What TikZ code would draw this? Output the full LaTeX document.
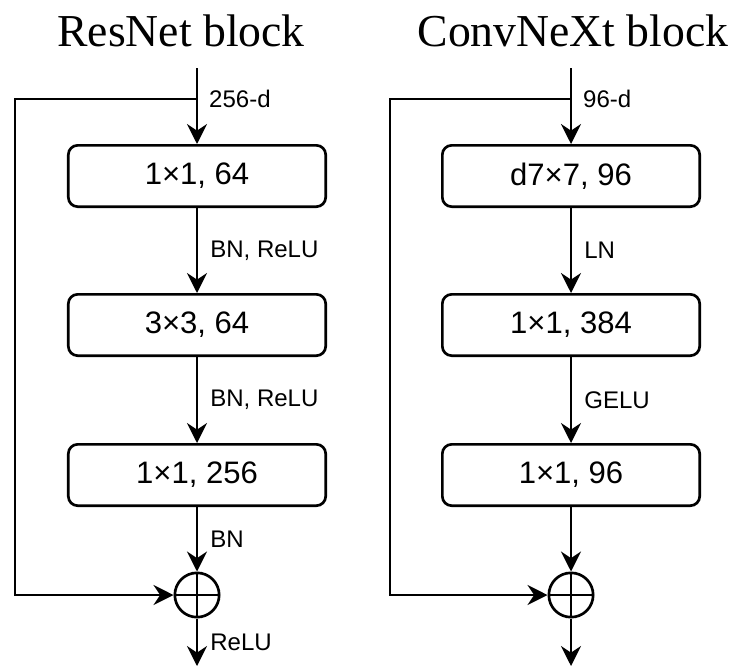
\documentclass[tikz,border=0pt]{standalone}
\usepackage{fontspec}
\setmainfont{Liberation Serif}
\setsansfont{Liberation Sans}
\usetikzlibrary{arrows.meta,positioning}

\begin{document}
\begin{tikzpicture}[x=0.03cm, y=-0.03cm,
    box/.style={draw, line width=0.08cm, rounded corners=0.28cm, minimum width=7.72cm, minimum height=1.84cm, font=\sffamily\fontsize{26.5}{30}\selectfont},
    addop/.style={draw, circle, line width=0.08cm, minimum size=1.33cm, inner sep=0pt,
        path picture={\draw[line width=0.08cm] (path picture bounding box.north) -- (path picture bounding box.south) (path picture bounding box.west) -- (path picture bounding box.east);}},
    arr/.style={line width=0.08cm, -{Stealth[length=0.6cm, width=0.6cm, inset=0.2cm]}},
    lbl/.style={right=0.36cm, inner sep=0pt, font=\sffamily\fontsize{20.5}{24}\selectfont},
    title/.style={anchor=base, font=\fontsize{39}{44}\selectfont}]
    \useasboundingbox (0,0) rectangle (734,666);

    % ResNet block
    \node[title] (t1) at (181,46) {ResNet block};
    \coordinate (in1) at (197,68);
    \coordinate (br1) at (197,99);
    \coordinate (sk1) at (15,99);
    \node[box] (r1) at (197,176) {1×1, 64};
    \node[box] (r2) at (197,325) {3×3, 64};
    \node[box] (r3) at (197,475) {1×1, 256};
    \node[addop] (add1) at (197,595) {};
    \coordinate (out1) at (197,666);

    \draw[arr] (in1) -- (r1);
    \node[lbl] (d1) at (br1) {256-d};
    \draw[arr] (r1) -- node[lbl] (a1) {BN, ReLU} (r2);
    \draw[arr] (r2) -- node[lbl] (a2) {BN, ReLU} (r3);
    \draw[arr] (r3) -- node[lbl] (a3) {BN} (add1);
    \draw[arr] (add1) -- node[lbl] (a4) {ReLU} (out1);
    \draw[arr] (br1) -- (sk1) |- (add1);

    % ConvNeXt block
    \node[title] (t2) at (573,46) {ConvNeXt block};
    \coordinate (in2) at (571,68);
    \coordinate (br2) at (571,99);
    \coordinate (sk2) at (390,99);
    \node[box] (c1) at (571,176) {d7×7, 96};
    \node[box] (c2) at (571,325) {1×1, 384};
    \node[box] (c3) at (571,475) {1×1, 96};
    \node[addop] (add2) at (571,595) {};
    \coordinate (out2) at (571,666);

    \draw[arr] (in2) -- (c1);
    \node[lbl] (d2) at (br2) {96-d};
    \draw[arr] (c1) -- node[lbl] (b1) {LN} (c2);
    \draw[arr] (c2) -- node[lbl] (b2) {GELU} (c3);
    \draw[arr] (c3) -- (add2);
    \draw[arr] (add2) -- (out2);
    \draw[arr] (br2) -- (sk2) |- (add2);
\end{tikzpicture}
\end{document}
